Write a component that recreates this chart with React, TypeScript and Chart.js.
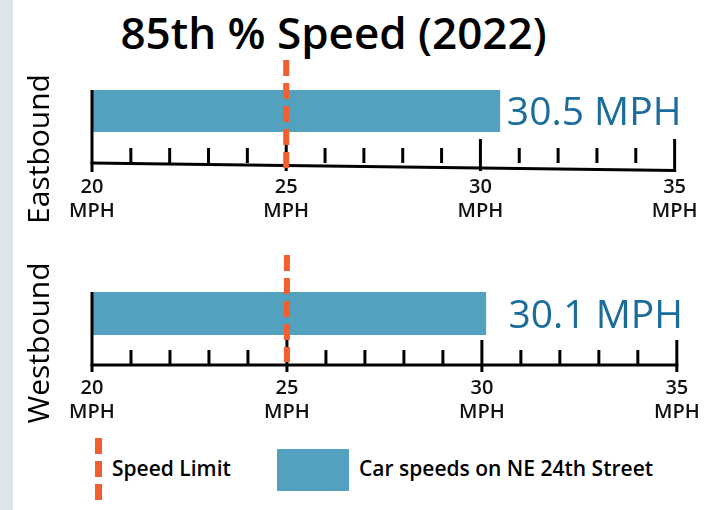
import { useEffect, useRef } from "react";
import { Chart, registerables } from "chart.js";

Chart.register(...registerables);

// ---- data ----
const titleText = "85th % Speed (2022)";
const directions = ["Eastbound", "Westbound"];
const speeds85 = [30.5, 30.1];
const speedLimit = 25;
const axisMin = 20;
const axisMax = 35;
const majorTicks = [20, 25, 30, 35];
const tickUnit = "MPH";
const legendLabels = ["Speed Limit", "Car speeds on NE 24th Street"];

// ---- styles ----
const BAR = "#52a1bf";
const ORANGE = "#f15f2e";
const VALUE = "#1a6c9b";
const FONT = '"Open Sans", "Noto Sans", sans-serif';
const CANVAS_W = 741;

type Decor = {
  minorTop: number;
  minorBottom: number;
  majorTop: number;
  majorBottom: number;
  baseLeft: number;
  baseRight: number;
  leftBottom: number;
  dashTop: number;
  dashBottom: number;
};

const decorPlugin = {
  id: "decor",
  afterDraw(chart: any, _args: any, opts: Decor) {
    const { ctx, chartArea } = chart;
    const xs = chart.scales.x;
    const t = chartArea.top;
    const b = chartArea.bottom;
    const x0 = xs.getPixelForValue(axisMin);
    const x1 = xs.getPixelForValue(axisMax);
    ctx.save();
    ctx.strokeStyle = "#000";
    ctx.lineWidth = 3;
    ctx.lineCap = "butt";
    ctx.beginPath();
    ctx.moveTo(x0, t);
    ctx.lineTo(x0, b + opts.leftBottom);
    ctx.stroke();
    ctx.beginPath();
    ctx.moveTo(x0 - 1.5, b + opts.baseLeft);
    ctx.lineTo(x1 + 1.5, b + opts.baseRight);
    ctx.stroke();
    for (let v = axisMin + 1; v <= axisMax; v++) {
      const px = xs.getPixelForValue(v);
      const major = majorTicks.includes(v);
      ctx.beginPath();
      ctx.moveTo(px, b + (major ? opts.majorTop : opts.minorTop));
      ctx.lineTo(px, b + (major ? opts.majorBottom : opts.minorBottom));
      ctx.stroke();
    }
    const lx = xs.getPixelForValue(speedLimit);
    ctx.strokeStyle = ORANGE;
    ctx.lineWidth = 6;
    ctx.setLineDash([16, 7]);
    ctx.beginPath();
    ctx.moveTo(lx, t + opts.dashTop);
    ctx.lineTo(lx, b + opts.dashBottom);
    ctx.stroke();
    ctx.setLineDash([]);
    // value labels share one left edge, just past the longest bar
    const bar = chart.getDatasetMeta(0).data[0];
    const value = chart.data.datasets[0].data[0];
    const labelX = xs.getPixelForValue(Math.max(...speeds85)) + 7;
    ctx.fillStyle = VALUE;
    ctx.font = `500 39px ${FONT}`;
    ctx.textBaseline = "alphabetic";
    ctx.textAlign = "left";
    ctx.fillText(`${value} ${tickUnit}`, labelX, bar.y + 14);
    ctx.restore();
  },
};

type Panel = {
  index: number;
  top: number;
  height: number;
  padTop: number;
  axisH: number;
  tickPad: number;
  decor: Decor;
};

function SpeedPanel({ index, top, height, padTop, axisH, tickPad, decor }: Panel) {
  const ref = useRef<HTMLCanvasElement | null>(null);
  useEffect(() => {
    if (!ref.current) return;
    const chart = new Chart(ref.current, {
      type: "bar",
      data: {
        labels: [directions[index]],
        datasets: [
          {
            label: legendLabels[1],
            data: [speeds85[index]],
            backgroundColor: BAR,
            borderWidth: 0,
            barPercentage: 1,
            categoryPercentage: 1,
            base: axisMin,
          } as any,
        ],
      },
      options: {
        indexAxis: "y",
        animation: false,
        responsive: false,
        maintainAspectRatio: false,
        events: [],
        layout: { padding: { left: 92, right: 27, top: padTop, bottom: 0 } },
        plugins: {
          legend: { display: false },
          tooltip: { enabled: false },
          decor: decor,
        } as any,
        scales: {
          x: {
            type: "linear",
            min: axisMin,
            max: axisMax,
            grid: { display: false, drawTicks: false },
            border: { display: false },
            ticks: {
              stepSize: 1,
              autoSkip: false,
              maxRotation: 0,
              minRotation: 0,
              padding: tickPad,
              color: "#111",
              font: { family: FONT, size: 20, weight: "600", lineHeight: 1.2 },
              callback: (v: any) =>
                majorTicks.includes(Number(v)) ? [String(v), tickUnit] : "",
            },
            afterFit: (s: any) => {
              s.height = axisH;
            },
          },
          y: { display: false },
        },
      },
      plugins: [decorPlugin as any],
    });
    return () => chart.destroy();
  }, []);
  return (
    <canvas
      ref={ref}
      width={CANVAS_W}
      height={height}
      style={{ position: "absolute", left: 0, top, width: CANVAS_W, height }}
    />
  );
}

const sideLabel = (text: string, cy: number) => (
  <div
    style={{
      position: "absolute",
      left: 38.4,
      top: cy,
      transform: "translate(-50%, -50%) rotate(-90deg)",
      font: `500 30px ${FONT}`,
      lineHeight: "30px",
      whiteSpace: "nowrap",
      color: "#000",
    }}
  >
    {text}
  </div>
);

export default function App() {
  return (
    <div
      style={{
        position: "fixed",
        left: 0,
        top: 0,
        width: 704,
        height: 510,
        background: "#fff",
        overflow: "hidden",
      }}
    >
      <div
        style={{
          position: "absolute",
          left: 0,
          top: 0,
          width: 13,
          height: 510,
          background: "#dce4ec",
        }}
      />
      <div
        style={{
          position: "absolute",
          left: 333.5,
          top: 10,
          transform: "translateX(-50%)",
          font: `600 44px ${FONT}`,
          lineHeight: "44px",
          whiteSpace: "nowrap",
          color: "#000",
        }}
      >
        {titleText}
      </div>
      <SpeedPanel
        index={0}
        top={0}
        height={240}
        padTop={90}
        axisH={108}
        tickPad={43.5}
        decor={{
          minorTop: 16,
          minorBottom: 31,
          majorTop: 7,
          majorBottom: 39,
          baseLeft: 31,
          baseRight: 38.5,
          leftBottom: 40,
          dashTop: -30,
          dashBottom: 38,
        }}
      />
      <SpeedPanel
        index={1}
        top={240}
        height={190}
        padTop={52}
        axisH={95}
        tickPad={41.3}
        decor={{
          minorTop: 15,
          minorBottom: 30,
          majorTop: 5,
          majorBottom: 37,
          baseLeft: 30,
          baseRight: 30,
          leftBottom: 37,
          dashTop: -37,
          dashBottom: 27,
        }}
      />
      {sideLabel(directions[0], 148.5)}
      {sideLabel(directions[1], 342.5)}
      <div
        style={{
          position: "absolute",
          left: 95,
          top: 438,
          width: 7,
          height: 63,
          background: `repeating-linear-gradient(to bottom, ${ORANGE} 0px, ${ORANGE} 16px, transparent 16px, transparent 23px)`,
        }}
      />
      <div
        style={{
          position: "absolute",
          left: 112,
          top: 458.4,
          font: `600 21px ${FONT}`,
          lineHeight: "21px",
          whiteSpace: "nowrap",
          color: "#000",
        }}
      >
        {legendLabels[0]}
      </div>
      <div
        style={{
          position: "absolute",
          left: 277,
          top: 449,
          width: 72,
          height: 42,
          background: BAR,
        }}
      />
      <div
        style={{
          position: "absolute",
          left: 359,
          top: 458.4,
          font: `600 21px ${FONT}`,
          lineHeight: "21px",
          whiteSpace: "nowrap",
          color: "#000",
        }}
      >
        {legendLabels[1]}
      </div>
    </div>
  );
}
